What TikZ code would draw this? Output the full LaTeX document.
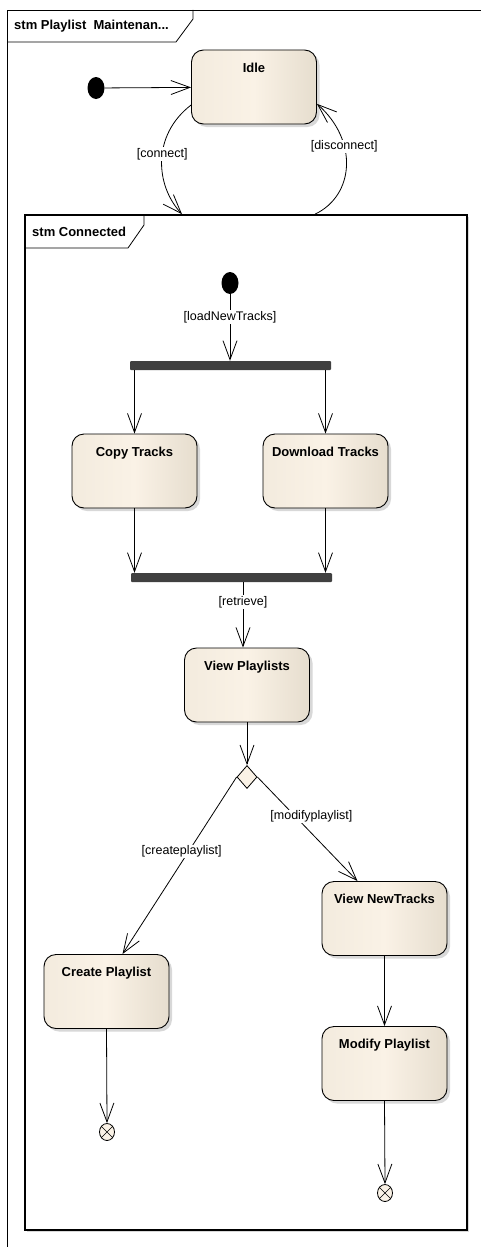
\documentclass[tikz,border=0pt]{standalone}
\usepackage{fontspec}
\setmainfont{Liberation Sans}
\usetikzlibrary{arrows.meta,shapes.geometric,shadows}
\definecolor{stateL}{HTML}{F3EBDE}
\definecolor{stateM}{HTML}{FAF2E6}
\definecolor{stateR}{HTML}{E6DDCE}
\definecolor{bargray}{HTML}{404040}
\tikzstyle{statebox} = [draw=black, line width=0.9pt, rectangle, rounded corners=12pt,
    left color=stateL, right color=stateR, middle color=stateM,
    drop shadow={shadow xshift=3pt, shadow yshift=-3pt, fill=black!30},
    minimum width=125pt, inner xsep=2pt, inner ysep=4pt, text height=18pt, text depth=48pt,
    font=\fontsize{13}{15}\selectfont\bfseries]
\tikzstyle{guard} = [fill=white, inner sep=1pt, font=\fontsize{12.5}{14}\selectfont]
\tikzstyle{trans} = [line width=0.8pt, -{Straight Barb[length=19pt,width=14pt]}]
\tikzstyle{bar} = [fill=bargray, rectangle, rounded corners=1pt,
    minimum width=201pt, minimum height=9pt, inner sep=0pt]
\tikzstyle{startdot} = [fill=black, ellipse, minimum width=17pt, minimum height=22pt, inner sep=0pt]
\tikzstyle{choicebox} = [draw, diamond, fill=stateM, line width=0.8pt,
    minimum width=20pt, minimum height=23pt, inner sep=0pt]
\tikzstyle{exitmark} = [draw, ellipse, fill=stateM, line width=0.8pt,
    minimum width=15pt, minimum height=17pt, inner sep=0pt]
\tikzstyle{frametitle} = [anchor=west, inner sep=0pt, font=\fontsize{13}{15}\selectfont\bfseries]

\begin{document}
\begin{tikzpicture}[x=1pt, y=-1pt]
    \useasboundingbox (0,0) rectangle (481,1247);
    % outer frame
    \draw[line width=0.8pt] (481,10) -- (7,10) -- (7,1247);
    \draw[line width=0.8pt] (7,42) -- (176,42) -- (193,19) -- (193,10);
    \node[frametitle] (outertitle) at (14,26) {stm Playlist~ Maintenan...};

    \node[statebox] (idle) at (254,87) {Idle};
    \node[startdot] (init1) at (96,88) {};
    \draw[trans] (init1) -- (idle);

    % composite state
    \node[draw, fill=white, line width=1.6pt, minimum width=442pt, minimum height=1015pt,
        inner sep=0pt, drop shadow={shadow xshift=2pt, shadow yshift=-2pt, fill=black!30}]
        (connected) at (246,722.5) {};
    \draw[line width=0.8pt] (25,248) -- (128,248) -- (144,225) -- (144,215);
    \node[frametitle] (conntitle) at (32,232) {stm Connected};

    \draw[trans] (idle.196) .. controls (152,135) and (155,185) .. ([xshift=-64pt]connected.north)
        node[guard, pos=0.45] {[connect]};
    \draw[trans] ([xshift=69pt]connected.north) .. controls (355,195) and (358,140) .. (idle.345)
        node[guard, pos=0.65] {[disconnect]};

    \node[startdot] (init2) at (230,283) {};
    \node[bar] (fork) at (230.5,365.5) {};
    \draw[trans] (init2) -- (init2 |- fork.north) node[guard, pos=0.34] {[loadNewTracks]};

    \node[statebox] (copy) at (134.5,471) {Copy Tracks};
    \node[statebox] (download) at (325.5,471) {Download Tracks};
    \draw[trans] (copy.north |- fork.south) -- (copy.north);
    \draw[trans] (download.north |- fork.south) -- (download.north);

    \node[bar] (join) at (231.5,577.5) {};
    \draw[trans] (copy.south) -- (copy.south |- join.north);
    \draw[trans] (download.south) -- (download.south |- join.north);

    \node[statebox] (viewlists) at (247,685) {View Playlists};
    \draw[trans] ([xshift=-4pt]viewlists.north |- join.south) -- ([xshift=-4pt]viewlists.north)
        node[guard, pos=0.3] {[retrieve]};

    \node[choicebox] (choice) at (247,777) {};
    \draw[trans] (viewlists.south) -- (choice.north);

    \node[statebox] (create) at (106.5,991.5) {Create Playlist};
    \node[statebox] (viewnew) at (384.5,918.5) {View NewTracks};
    \node[statebox] (modify) at (384.5,1063.5) {Modify Playlist};
    \draw[trans] (choice.west) -- ([xshift=16pt]create.north)
        node[guard, pos=0.42, xshift=-7pt] {[createplaylist]};
    \draw[trans] (choice.east) -- ([xshift=-27pt]viewnew.north)
        node[guard, pos=0.38, xshift=16pt] {[modifyplaylist]};
    \draw[trans] (viewnew) -- (modify);

    \node[exitmark] (exit1) at (107,1132) {};
    \node[exitmark] (exit2) at (385,1193) {};
    \foreach \e in {exit1, exit2} {
        \draw[line width=0.6pt] (\e.45) -- (\e.225) (\e.135) -- (\e.315);
    }
    \draw[trans] (create.south) -- (exit1.north);
    \draw[trans] (modify.south) -- (exit2.north);
\end{tikzpicture}
\end{document}
